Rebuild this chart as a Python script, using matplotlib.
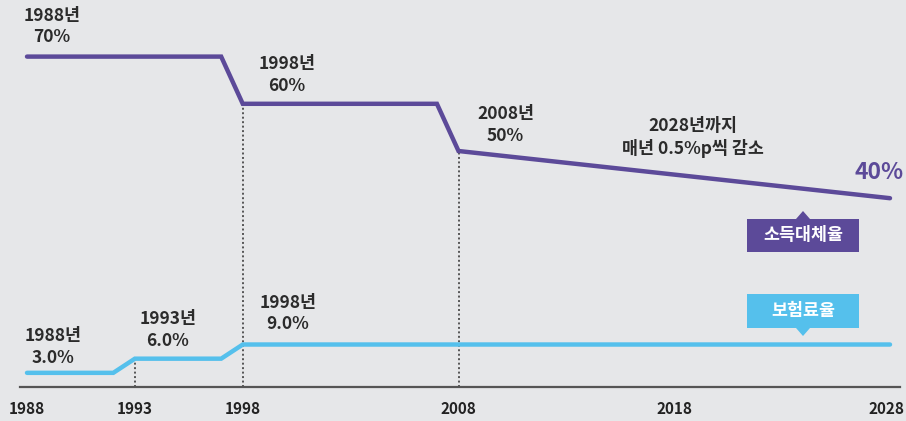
import matplotlib
matplotlib.use("Agg")
import matplotlib.pyplot as plt
import matplotlib.transforms as mtransforms
from matplotlib.patches import Rectangle, Polygon

plt.rcParams['font.family'] = ['Noto Sans CJK KR', 'DejaVu Sans']

# Data
years_replace = [1988, 1997, 1998, 2007, 2008, 2028]
replace_rate = [70, 70, 60, 60, 50, 40]
years_premium = [1988, 1992, 1993, 1997, 1998, 2028]
premium_rate = [3.0, 3.0, 6.0, 6.0, 9.0, 9.0]
tick_years = [1988, 1993, 1998, 2008, 2018, 2028]

replace_labels = [(1988, 70, "1988년\n70%"), (1998, 60, "1998년\n60%"), (2008, 50, "2008년\n50%")]
premium_labels = [(1988, 3.0, "1988년\n3.0%"), (1993, 6.0, "1993년\n6.0%"), (1998, 9.0, "1998년\n9.0%")]
guide_years = [(1993, 6.0), (1998, 60), (2008, 50)]

PURPLE = "#5c4a99"
BLUE = "#55c0ec"
BG = "#e6e7e9"
TXT = "#2b2b2b"
LS = 1.27
FS = 12.5

W, H = 906, 421
fig = plt.figure(figsize=(W / 100, H / 100), dpi=100, facecolor=BG)
ax = fig.add_axes([20 / W, (H - 387) / H, (900 - 20) / W, 387 / H])
ax.set_facecolor(BG)
ax.set_xlim(1988 - 7 / 21.58, 2028 + 10 / 21.58)
ax.set_ylim(0, 387 / 4.72)

for s in ["top", "left", "right"]:
    ax.spines[s].set_visible(False)
ax.spines["bottom"].set_color("#555555")
ax.spines["bottom"].set_linewidth(1.6)
ax.set_yticks([])
ax.set_xticks(tick_years)
ax.set_xticklabels([str(y) for y in tick_years], fontsize=11, fontweight="bold", color="#222222")
ax.tick_params(axis="x", length=0, pad=10)
last = ax.get_xticklabels()[-1]
last.set_transform(last.get_transform() + mtransforms.ScaledTranslation(-4 / 100, 0, fig.dpi_scale_trans))

# guide dotted lines
for gx, gy in guide_years:
    ax.vlines(gx, 0, gy, colors="#555555", linestyles=(0, (1, 1.3)), linewidth=1.4, zorder=1)

ax.plot(years_replace, replace_rate, color=PURPLE, lw=3.2, solid_capstyle="round",
        solid_joinstyle="miter", zorder=3, clip_on=False)
ax.plot(years_premium, premium_rate, color=BLUE, lw=3.2, solid_capstyle="round",
        solid_joinstyle="miter", zorder=3, clip_on=False)

offs_r = [(25, 30), (44, 29), (47, 26)]
for (x, y, t), o in zip(replace_labels, offs_r):
    ax.annotate(t, xy=(x, y), xytext=o, textcoords="offset pixels", ha="center", va="center",
                fontsize=FS, fontweight="bold", color=TXT, linespacing=LS)
offs_p = [(26, 26), (33, 29), (45, 31)]
for (x, y, t), o in zip(premium_labels, offs_p):
    ax.annotate(t, xy=(x, y), xytext=o, textcoords="offset pixels", ha="center", va="center",
                fontsize=FS, fontweight="bold", color=TXT, linespacing=LS)

ax.annotate("2028년까지\n매년 0.5%p씩 감소", xy=(2018, 45), xytext=(19, 37), textcoords="offset pixels",
            ha="center", va="center", fontsize=FS, fontweight="bold", color=TXT, linespacing=LS - 0.05)
ax.annotate("40%", xy=(2028, 40), xytext=(-11, 26), textcoords="offset pixels",
            ha="center", va="center", fontsize=16.5, fontweight="bold", color=PURPLE)

# legend tags (pixel coords, origin top-left converted)
def px(x, y):
    return (x / W, (H - y) / H)

def tag(x0, x1, ytop, ybot, color, text, tip_up):
    fig.patches.append(Rectangle(px(x0, ybot), (x1 - x0) / W, (ybot - ytop) / H,
                                 transform=fig.transFigure, facecolor=color, edgecolor="none"))
    cx = (x0 + x1) / 2
    if tip_up:
        tri = [px(cx - 7, ytop), px(cx + 7, ytop), px(cx, ytop - 8)]
    else:
        tri = [px(cx - 7, ybot), px(cx + 7, ybot), px(cx, ybot + 8)]
    fig.patches.append(Polygon(tri, closed=True, transform=fig.transFigure, facecolor=color, edgecolor="none"))
    fig.text(*px(cx, (ytop + ybot) / 2), text, ha="center", va="center", color="white",
             fontsize=12.5, fontweight="bold")

tag(747, 859, 219, 252, PURPLE, "소득대체율", True)
tag(747, 859, 294, 328, BLUE, "보험료율", False)

fig.savefig("out.png", dpi=100, facecolor=BG)
